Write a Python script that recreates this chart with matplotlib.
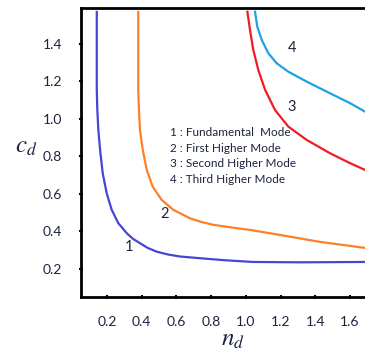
import matplotlib.pyplot as plt
import numpy as np

# mode curves (n_d, c_d)
n1 = [0.141, 0.141, 0.144, 0.150, 0.160, 0.175, 0.198, 0.227, 0.265, 0.314, 0.350, 0.390,
      0.436, 0.486, 0.550, 0.621, 0.736, 0.88, 1.041, 1.312, 1.687]
c1 = [1.571, 1.155, 1.048, 0.941, 0.835, 0.711, 0.604, 0.515, 0.444, 0.390, 0.360, 0.337,
      0.311, 0.292, 0.277, 0.266, 0.257, 0.246, 0.237, 0.235, 0.237]

n2 = [0.380, 0.380, 0.384, 0.390, 0.406, 0.429, 0.463, 0.515, 0.582, 0.678, 0.745, 0.813,
      0.948, 1.024, 1.197, 1.428, 1.687]
c2 = [1.571, 1.155, 1.048, 0.941, 0.835, 0.728, 0.639, 0.568, 0.515, 0.470, 0.450, 0.435,
      0.417, 0.408, 0.381, 0.344, 0.312]

n3 = [1.009, 1.024, 1.043, 1.072, 1.111, 1.168, 1.245, 1.351, 1.485, 1.601, 1.687]
c3 = [1.572, 1.475, 1.368, 1.261, 1.155, 1.048, 0.959, 0.888, 0.817, 0.764, 0.728]

n4 = [1.053, 1.066, 1.092, 1.130, 1.178, 1.245, 1.351, 1.485, 1.601, 1.687]
c4 = [1.572, 1.492, 1.421, 1.350, 1.297, 1.252, 1.199, 1.137, 1.084, 1.039]

legend_lines = ["1 : Fundamental  Mode", "2 : First Higher Mode",
                "3 : Second Higher Mode", "4 : Third Higher Mode"]

plt.rcParams['font.family'] = ['Lato', 'DejaVu Sans']
plt.rcParams['mathtext.fontset'] = 'stix'
txt = '#1c2340'

fig = plt.figure(figsize=(3.65, 3.59), dpi=100)
ax = fig.add_axes([81 / 365, 62 / 359, 304 / 365, 289 / 359])

ax.plot(n1, c1, color='#4545d6', lw=1.6, solid_joinstyle='round')
ax.plot(n2, c2, color='#ff7f27', lw=1.6, solid_joinstyle='round')
ax.plot(n3, c3, color='#ee1c24', lw=1.6, solid_joinstyle='round')
ax.plot(n4, c4, color='#1fa2e2', lw=1.6, solid_joinstyle='round')

ax.text(0.329, 0.319, "1", fontsize=10.5, color=txt, ha='center', va='center')
ax.text(0.534, 0.493, "2", fontsize=10.5, color=txt, ha='center', va='center')
ax.text(1.266, 1.064, "3", fontsize=10.5, color=txt, ha='center', va='center')
ax.text(1.266, 1.379, "4", fontsize=10.5, color=txt, ha='center', va='center')

for i, s in enumerate(legend_lines):
    ax.text(0.563, 0.927 - i * 0.0827, s, fontsize=8.5, color=txt, va='center')

ax.set_xlim(0.05, 1.802)
ax.set_ylim(0.05, 1.592)
ax.set_xticks([0.2, 0.4, 0.6, 0.8, 1.0, 1.2, 1.4, 1.6])
ax.set_yticks([0.2, 0.4, 0.6, 0.8, 1.0, 1.2, 1.4])
ax.set_xticklabels(["0.2", "0.4", "0.6", "0.8", "1.0", "1.2", "1.4", "1.6"])
ax.set_yticklabels(["0.2", "0.4", "0.6", "0.8", "1.0", "1.2", "1.4"])
ax.tick_params(direction='inout', length=3, width=1.5, labelsize=10,
               labelcolor=txt, pad=12)
ax.spines['right'].set_visible(False)
for s in ['left', 'bottom', 'top']:
    ax.spines[s].set_linewidth(2)

ax.set_xlabel("$n_d$", fontsize=18, color=txt, labelpad=0)
ax.set_ylabel("$c_d$", fontsize=18, color=txt, rotation=0, va='center', ha='center')
ax.yaxis.set_label_coords(-0.18, 0.52)

fig.savefig("out.png", dpi=100)
